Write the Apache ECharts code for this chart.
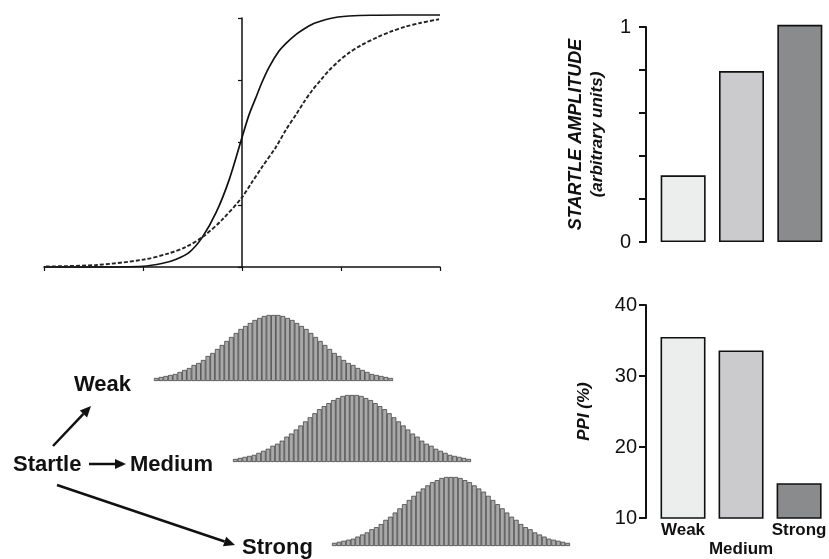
<!DOCTYPE html>
<html>
<head>
<meta charset="UTF-8">
<title>Startle / PPI</title>
<script src="https://cdn.jsdelivr.net/npm/echarts@6/dist/echarts.min.js"></script>
<style>
  html, body { margin: 0; padding: 0; background: #fff; }
  #main { width: 829px; height: 559px; }
</style>
</head>
<body>
<div id="main"></div>
<script>
// curves, [x, y]
var solidCurve = [
  [-2, 0], [-1.5, 0], [-1, 0.003], [-0.8, 0.015], [-0.67, 0.03], [-0.53, 0.06],
  [-0.4, 0.12], [-0.26, 0.22], [-0.13, 0.35], [0, 0.52], [0.07, 0.61], [0.14, 0.68],
  [0.2, 0.74], [0.27, 0.8], [0.37, 0.865], [0.45, 0.9], [0.55, 0.935], [0.63, 0.957],
  [0.71, 0.975], [0.8, 0.988], [0.88, 0.997], [0.97, 1.004], [1.08, 1.008],
  [1.3, 1.011], [1.6, 1.012], [2, 1.012]
];
var dashedCurve = [
  [-1.98, 0.002], [-1.47, 0.008], [-0.99, 0.03], [-0.74, 0.055], [-0.57, 0.08],
  [-0.4, 0.12], [-0.2, 0.19], [0, 0.28], [0.1, 0.34], [0.2, 0.4], [0.34, 0.48],
  [0.45, 0.555], [0.55, 0.615], [0.63, 0.665], [0.71, 0.71], [0.8, 0.753], [0.88, 0.79],
  [0.98, 0.828], [1.08, 0.86], [1.2, 0.89], [1.38, 0.925], [1.5, 0.945],
  [1.65, 0.965], [1.8, 0.98], [1.99, 0.995]
];

var levels = ['Weak', 'Medium', 'Strong'];
var startleAmp = [0.31, 0.795, 1.01];
var ppiValues = [35.5, 33.6, 14.9];

// bar heights of the distributions (same shape for weak / medium / strong)
var histHeights = [3, 4, 5, 6, 7, 9, 11, 13, 16, 18, 21, 25, 28, 32, 36, 40, 44, 48, 52, 55,
  58, 61, 63, 65, 66, 66, 66, 65, 63, 61, 58, 55, 52, 48, 44, 40, 36, 32, 28, 25,
  21, 18, 16, 13, 11, 9, 7, 6, 5, 4, 3];
var histIdx = histHeights.map(function (v, i) { return i; });

var barColors = ['#eceeed', '#cbcbcd', '#8a8b8d'];
var FONT = '"Liberation Sans", Arial, Helvetica, sans-serif';

var myChart = echarts.init(document.getElementById('main'));

function coloredBars(values) {
  return values.map(function (v, i) {
    return { value: v, itemStyle: { color: barColors[i] } };
  });
}

function arrow(x1, y1, x2, y2) {
  var len = Math.sqrt((x2 - x1) * (x2 - x1) + (y2 - y1) * (y2 - y1));
  var ux = (x2 - x1) / len, uy = (y2 - y1) / len;
  var hl = 11, hw = 5;
  var bx = x2 - ux * hl, by = y2 - uy * hl;
  return [
    { type: 'line', shape: { x1: x1, y1: y1, x2: bx, y2: by }, style: { stroke: '#111', lineWidth: 2.5 } },
    { type: 'polygon', shape: { points: [[x2, y2], [bx - uy * hw, by + ux * hw], [bx + uy * hw, by - ux * hw]] }, style: { fill: '#111' } }
  ];
}

function label(text, x, y) {
  return {
    type: 'text',
    style: { text: text, x: x, y: y, font: 'bold 22px ' + FONT, fill: '#111', textAlign: 'left', textVerticalAlign: 'middle' }
  };
}

var histAxisX = function (gi) {
  return { gridIndex: gi, type: 'category', data: histIdx, show: false };
};
var histAxisY = function (gi) {
  return { gridIndex: gi, type: 'value', min: 0, max: 66, show: false };
};
var histSeries = function (gi) {
  return {
    type: 'bar', xAxisIndex: gi, yAxisIndex: gi, data: histHeights,
    barCategoryGap: '0%', silent: true,
    itemStyle: { color: '#a9a9a9', borderColor: '#333', borderWidth: 0.7 }
  };
};

var option = {
  animation: false,
  backgroundColor: '#fff',
  textStyle: { fontFamily: FONT },
  grid: [
    { left: 44, top: 18, width: 396, height: 249 },
    { left: 654, top: 27, width: 177, height: 215 },
    { left: 654, top: 305, width: 177, height: 215 },
    { left: 154, top: 315, width: 239, height: 66 },
    { left: 233, top: 395, width: 238, height: 67 },
    { left: 332, top: 477, width: 238, height: 69 }
  ],
  xAxis: [
    {
      gridIndex: 0, type: 'value', min: -2, max: 2, interval: 1,
      axisLine: { lineStyle: { color: '#111', width: 1.5 } },
      axisTick: { length: 4, lineStyle: { color: '#111', width: 1.2 } },
      axisLabel: { show: false }, splitLine: { show: false }
    },
    {
      gridIndex: 1, type: 'category', data: levels,
      axisLine: { show: false }, axisTick: { show: false }, axisLabel: { show: false }
    },
    {
      gridIndex: 2, type: 'category', data: levels,
      axisLine: { show: false }, axisTick: { show: false },
      axisLabel: {
        interval: 0, margin: 3, color: '#111', fontWeight: 'bold', fontSize: 17, lineHeight: 19,
        formatter: function (v) { return v === 'Medium' ? '\nMedium' : v; }
      }
    },
    histAxisX(3), histAxisX(4), histAxisX(5)
  ],
  yAxis: [
    {
      gridIndex: 0, type: 'value', min: 0, max: 1, interval: 0.25,
      axisLine: { show: true, onZero: true, lineStyle: { color: '#111', width: 1.5 } },
      axisTick: { show: true, length: 4, lineStyle: { color: '#111', width: 1.2 } },
      axisLabel: { show: false }, splitLine: { show: false }
    },
    {
      gridIndex: 1, type: 'value', min: 0, max: 1, interval: 0.2, offset: 8,
      axisLine: { show: true, lineStyle: { color: '#111', width: 2 } },
      axisTick: { show: true, length: 7, lineStyle: { color: '#111', width: 2 } },
      axisLabel: {
        margin: 15, color: '#111', fontSize: 20,
        formatter: function (v) { return (v === 0 || v === 1) ? String(v) : ''; }
      },
      splitLine: { show: false },
      name: '{a|STARTLE AMPLITUDE}\n{b|(arbitrary units)}',
      nameLocation: 'middle', nameRotate: 90, nameGap: 39,
      nameTextStyle: {
        rich: {
          a: { fontSize: 18, fontWeight: 'bold', fontStyle: 'italic', color: '#111', lineHeight: 21, align: 'center' },
          b: { fontSize: 17, fontWeight: 'bold', fontStyle: 'italic', color: '#111', lineHeight: 20, align: 'center' }
        }
      }
    },
    {
      gridIndex: 2, type: 'value', min: 10, max: 40, interval: 10, offset: 8,
      axisLine: { show: true, lineStyle: { color: '#111', width: 2 } },
      axisTick: { show: true, length: 7, lineStyle: { color: '#111', width: 2 } },
      axisLabel: { margin: 9, color: '#111', fontSize: 20 },
      splitLine: { show: false },
      name: 'PPI (%)', nameLocation: 'middle', nameRotate: 90, nameGap: 53,
      nameTextStyle: { fontSize: 17, fontWeight: 'bold', fontStyle: 'italic', color: '#111' }
    },
    histAxisY(3), histAxisY(4), histAxisY(5)
  ],
  series: [
    {
      type: 'line', xAxisIndex: 0, yAxisIndex: 0, data: solidCurve, smooth: 0.3,
      showSymbol: false, clip: false, lineStyle: { color: '#111', width: 1.7 }
    },
    {
      type: 'line', xAxisIndex: 0, yAxisIndex: 0, data: dashedCurve, smooth: 0.3,
      showSymbol: false, clip: false, lineStyle: { color: '#222', width: 1.9, type: [4, 2] }
    },
    {
      type: 'bar', xAxisIndex: 1, yAxisIndex: 1, data: coloredBars(startleAmp),
      barWidth: 45, clip: false, itemStyle: { borderColor: '#111', borderWidth: 1.6 }
    },
    {
      type: 'bar', xAxisIndex: 2, yAxisIndex: 2, data: coloredBars(ppiValues),
      barWidth: 45, itemStyle: { borderColor: '#111', borderWidth: 1.6 }
    },
    histSeries(3), histSeries(4), histSeries(5)
  ],
  graphic: [
    label('Weak', 74, 385),
    label('Startle', 13, 465),
    label('Medium', 130, 465),
    label('Strong', 242, 548)
  ]
    .concat(arrow(53, 446, 91, 406))
    .concat(arrow(89, 464, 126, 464))
    .concat(arrow(57, 485, 235, 545))
};

myChart.setOption(option);
</script>
</body>
</html>
